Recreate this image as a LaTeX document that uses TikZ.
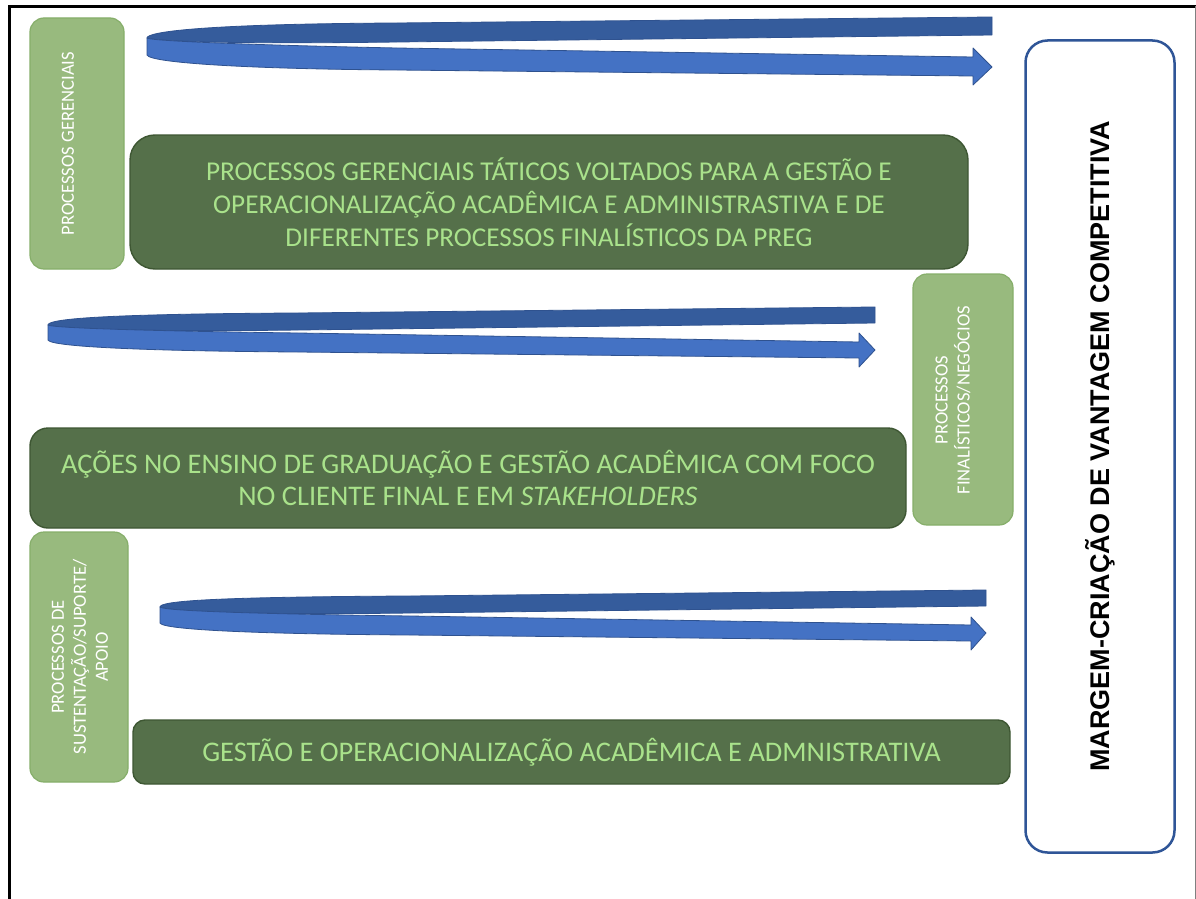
\documentclass[tikz,border=0pt]{standalone}
\usepackage{fontspec}
\setmainfont{Carlito}
\newfontfamily\arialfont{Liberation Sans}
\definecolor{lgreen}{HTML}{98BA7E}
\definecolor{lgreenedge}{HTML}{86AE6A}
\definecolor{dgreen}{HTML}{55704A}
\definecolor{dgreenedge}{HTML}{3E5733}
\definecolor{tgreen}{HTML}{A9E28B}
\definecolor{bandback}{HTML}{355C9C}
\definecolor{bandfront}{HTML}{4472C4}
\definecolor{bandedge}{HTML}{2F528F}
\definecolor{mblue}{HTML}{2F5597}
\begin{document}
\begin{tikzpicture}[x=1pt,y=-1pt,
  greenbox/.style={draw=lgreenedge, fill=lgreen, rounded corners=14pt, line width=1.2pt, inner sep=0pt},
  darkbox/.style={draw=dgreenedge, fill=dgreen, line width=1.4pt, text=tgreen, align=center, inner sep=0pt, font=\fontsize{28.4}{32}\selectfont},
  sidelabel/.style={rotate=90, text=white, align=center, inner sep=0pt, font=\fontsize{18.6}{22}\selectfont},
  backband/.style={fill=bandback, draw=bandedge, line width=0.8pt, line join=round},
  frontband/.style={fill=bandfront, draw=bandedge, line width=0.8pt, line join=round}]
\useasboundingbox (0,0) rectangle (1196,899);
\fill[white] (0,0) rectangle (1196,899);
% frame
\draw[line width=3pt] (9.5,899) -- (9.5,6.5) -- (1196,6.5);
\draw[gray, line width=1pt] (1195,6.5) -- (1195,899);

% ribbon arrow 1
\path[backband] (147,38) .. controls (147,32) and (200,24) .. (397,23) -- (992,17) -- (992,35) -- (397,42) .. controls (250,44) and (160,42) .. (147,38) -- cycle;
\path[frontband] (147,38) -- (147,55) .. controls (150,63) and (250,69) .. (397,70) -- (973,76) -- (973,85) -- (992,67) -- (973,48) -- (973,57) -- (397,48) .. controls (250,45) and (150,41) .. (147,38) -- cycle;

% ribbon arrow 2
\path[backband] (48,325) .. controls (48,319) and (100,314) .. (298,313) -- (875,307) -- (875,323) -- (298,330) .. controls (150,332) and (60,329) .. (48,325) -- cycle;
\path[frontband] (48,325) -- (48,340) .. controls (51,347) and (150,351) .. (298,352) -- (859,358) -- (859,367) -- (875,350) -- (859,333) -- (859,342) -- (298,333) .. controls (150,331) and (51,328) .. (48,325) -- cycle;

% ribbon arrow 3
\path[backband] (160,607) .. controls (160,601) and (212,597) .. (410,596) -- (986,590) -- (986,606) -- (410,613) .. controls (262,615) and (172,612) .. (160,607) -- cycle;
\path[frontband] (160,607) -- (160,623) .. controls (163,630) and (262,634) .. (410,635) -- (971,641) -- (971,650) -- (986,633) -- (971,617) -- (971,625) -- (410,616) .. controls (262,614) and (163,611) .. (160,607) -- cycle;

% light green side boxes
\node[greenbox, minimum width=94pt, minimum height=251pt] (g1) at (77,143.5) {};
\node[sidelabel] (g1t) at (68,143.5) {PROCESSOS GERENCIAIS};
\node[greenbox, minimum width=100pt, minimum height=251pt] (g2) at (963,399.5) {};
\node[sidelabel] (g2t) at (953,400) {PROCESSOS\\FINALÍSTICOS/NEGÓCIOS};
\node[greenbox, minimum width=98pt, minimum height=250pt] (g3) at (79,657) {};
\node[sidelabel] (g3t) at (80,657) {PROCESSOS DE\\SUSTENTAÇÃO/SUPORTE/\\APOIO};

% dark green boxes
\node[darkbox, rounded corners=25pt, minimum width=838pt, minimum height=134pt, font=\fontsize{27.2}{33}\selectfont] (d1) at (549,202)
  {PROCESSOS GERENCIAIS TÁTICOS VOLTADOS PARA A GESTÃO E\\OPERACIONALIZAÇÃO ACADÊMICA E ADMINISTRASTIVA E DE\\DIFERENTES PROCESSOS FINALÍSTICOS DA PREG};
\node[darkbox, rounded corners=18pt, minimum width=876pt, minimum height=100pt] (d2) at (468,478)
  {AÇÕES NO ENSINO DE GRADUAÇÃO E GESTÃO ACADÊMICA COM FOCO\\NO CLIENTE FINAL E EM \textit{STAKEHOLDERS}};
\node[darkbox, rounded corners=12pt, minimum width=877pt, minimum height=64pt] (d3) at (571.5,752)
  {GESTÃO E OPERACIONALIZAÇÃO ACADÊMICA E ADMNISTRATIVA};

% right box
\node[draw=mblue, fill=white, line width=2.5pt, rounded corners=22pt, minimum width=149pt, minimum height=812pt, inner sep=0pt] (m) at (1100,446.5) {};
\node[rotate=90, inner sep=0pt, font=\arialfont\bfseries\fontsize{27}{30}\selectfont] (mt) at (1100,446) {MARGEM-CRIAÇÃO DE VANTAGEM COMPETITIVA};
\end{tikzpicture}
\end{document}
